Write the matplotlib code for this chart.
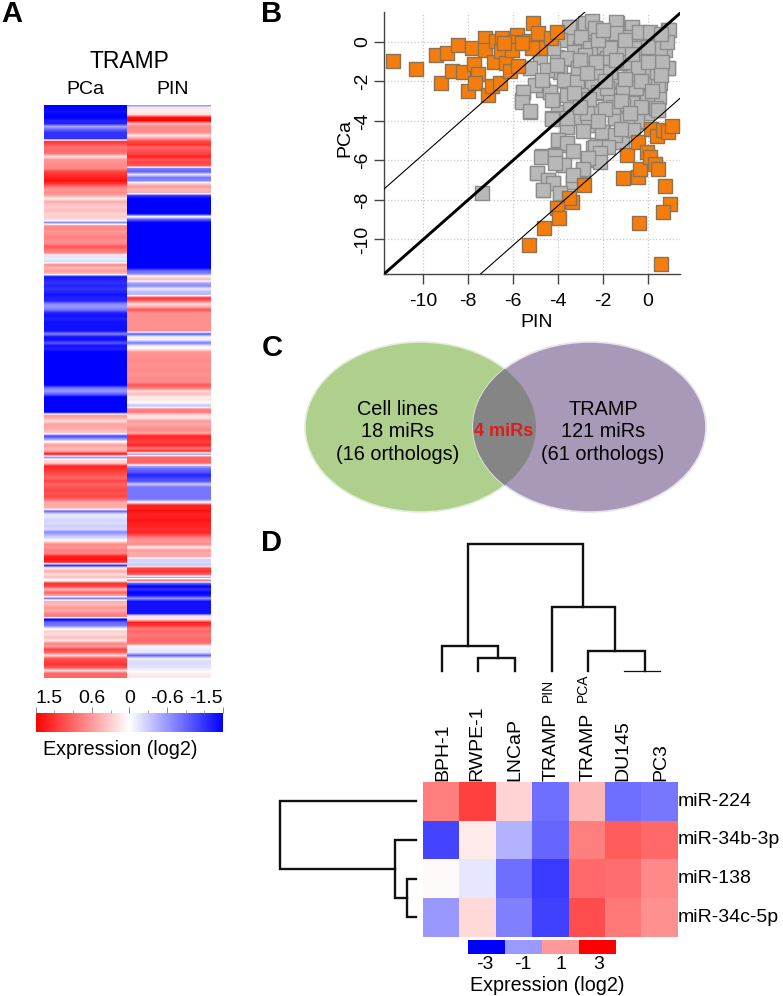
import numpy as np
import matplotlib
matplotlib.use('Agg')
import matplotlib.pyplot as plt
from matplotlib.colors import LinearSegmentedColormap, Normalize
from matplotlib.cm import ScalarMappable
from matplotlib.patches import Ellipse, Rectangle

plt.rcParams['font.family'] = ['Liberation Sans', 'DejaVu Sans']
plt.rcParams['axes.unicode_minus'] = False

W, H = 783, 996

# panel A, one value per row, top to bottom
pca_rows = [-1.5, -1.5, -1.4, -1.5, -1.5, -1.3, -1.3, -0.5, -0.9, -1.2, -1.2, -1.2, 1.2, 1.0, 0.8, 0.9, 0.8, 0.15,
            0.6, 0.65, 0.7, 0.7, 1.1, 1.2, 1.3, 1.4, 1.2, 0.8, 0.6, 0.7, 0.5, 0.1, 0.5, 0.35, 0.3, 0.4, 0.25, 0.3, 0.2,
            -0.7, 0.65, 0.7, 0.6, 0.7, 0.75, 0.65, 0.7, 1.0, 0.8, 0.7, -0.2, -0.1, -0.25, 0.7, 0.4, 0.6, 0.4,
            -1.4, -1.3, -1.2, -1.3, -1.2, -1.3, -1.4, -1.3, -1.3, -0.7, -0.6, -0.8,
            -1.3, -1.4, -1.3, -1.4, -1.4, -1.4, -1.4, -0.7, -1.4, -1.4,
            -1.0, -1.4, -1.3, -1.5, -1.5, -1.5, -1.5, -1.5, -1.5, -1.5, -1.5, -1.5, -1.5, -1.5, -1.5,
            -0.8, -0.6, -0.9, -1.5, -1.5, -1.5, -1.5, -1.5, -1.5, 0.6, 0.5, 0.2, 0.55, 0.5, 0.45, 0.3,
            -1.1, -0.6, 0.1, 0.6, 0.4, 0.5, 1.4, -0.7, 0.2, 0.3,
            1.3, 1.2, 1.1, 1.0, 0.9, 1.1, 0.9, 1.0, 1.1, 1.0, 1.1, 0.9, 0.5, 0.5, 0.45, -0.9, -0.15,
            -0.15, -0.25, -0.2, -0.3, -0.2, -0.7, -0.4, -0.2, 0.15, 0.7, 0.6, 0.75, 0.7, 1.3, 1.4, 1.2, -1.3,
            0.15, 0.5, 0.2, 0.4, -0.1, 1.2, 1.1, 0.4, 0.9, 0.6, -0.8, 0.5, 0.4, 0.6, 0.5, 0.7, 0.8, -1.5,
            -0.9, -0.8, -0.1, 0.3, 0.2, 0.4, 0.15, 0.7, 0.6, 1.1, 0.9, 0.2, 1.0, 1.1, 1.2, 1.0, 0.2, 0.9, 0.9]
pin_rows = [-0.6, 0.15, 0.1, 0.2, 1.4, 1.5, 0.4, 0.7, 0.7, 0.65, 0.15, 0.6,
            1.1, 1.2, 0.9, 1.0, 1.1, 1.3, 1.0, 1.1, 1.0, -0.8, -0.9, -0.15, -0.8, -0.7, 0.3, 0.6, 0.4, 0.5, -1.2,
            -1.5, -1.5, -1.5, -1.5, -1.5, -1.5, 0.0, -1.0,
            -1.5, -1.5, -1.5, -1.5, -1.5, -1.5, -1.5, -1.5, -1.5, -1.5, -1.5, -1.5, -1.5, -1.5, -1.5, -1.5,
            -0.9, -0.7, 0.2, 0.4, -0.5, -0.7, -0.1, -0.4, -0.4, 1.2, 0.9, 0.2, 0.5,
            1.0, 0.65, 0.65, 0.65, 0.65, 0.65, 0.65, 0.65, -1.0, -0.05, -0.1,
            -0.8, -0.1, 0.1, 0.6, 0.65, 0.65, 0.7, 0.65, 0.65, 0.7, 0.65, 0.65, 0.7, 0.65,
            1.0, 0.8, 0.2, 0.4, 0.1, 0.15, -0.05, -0.4, 0.7, 0.8, 0.2, 0.15, 0.6, 0.5, 0.6, 0.7, 0.5,
            1.3, 1.2, 1.1, 1.3, 0.8, 1.2, -0.7, 0.9, 0.9, 0.9, -0.5, -0.9, -1.0, -1.3, -1.1, -1.0,
            -0.3, -0.8, -0.8, -0.8, -0.8, -0.8, 0.0, 1.3, 1.3, 1.4, 1.3, 1.3, 1.4, 1.3, 1.3, 1.2, 1.3,
            1.0, 0.7, 0.6, 0.7, 0.1, 0.6, 0.5, 0.55, -0.3, -0.2, -0.35, 1.1, 1.2, 1.0, -0.6, 0.9, -0.9,
            -1.5, -1.2, -1.5, -1.4, -0.6, -1.4, -1.4, -1.4, -1.4, -1.4, 0.15, 0.15, 1.3, 1.2,
            0.8, 0.9, 0.8, 0.85, 0.9, 0.8, -0.05, -0.1, -0.15, -0.9, -0.1, -0.2, -0.2, -0.15, -0.05, 0.1, 0.15]
bar_ticks = [1.5, 0.6, 0, -0.6, -1.5]
bar_minor = [1.2, 0.9, 0.3, -0.3, -0.9, -1.2]

# panel B
orange_pin = [-11.34, -10.31, -9.45, -8.96, -8.45, -9.21, -8.71, -8.25, -7.82, -7.25, -7.25, -7.73, -7.58, -8.0, -7.7,
              -7.1, -6.92, -6.6, -6.85, -6.78, -6.5, -6.55, -6.33, -6.14, -5.77, -5.84, -5.94, -6.06, -5.27, -5.1,
              -4.87, -4.8, -5.17, -4.31, -4.03, -6.4, -5.62,
              -2.82, -3.39, -3.5, -4.03, -3.97, -4.62, -5.27, -0.94, -1.11, -0.45, -0.34, -0.42, -0.01, 0.1, 0.33,
              0.48, 0.15, 0.43, 0.7, 0.92, 1.07, 0.77, 1.0, 0.67, -0.4, 0.59]
orange_pca = [-0.98, -1.38, -0.67, -0.56, -0.17, -2.07, -1.47, -1.52, -0.34, 0.17, -0.42, -1.13, -1.64, -2.48, -2.07,
              -2.7, -2.24, -2.07, -1.01, 0.05, 0.17, -0.46, -1.06, -1.47, -1.21, 0.34, -0.03, -0.42, 0.05, 0.96,
              0.42, -0.34, -0.34, 0.17, 0.47, -0.08, -0.08,
              -7.25, -8.09, -7.93, -8.43, -8.94, -9.44, -10.3, -5.72, -6.91, -6.83, -6.46, -5.09, -5.56, -5.82, -6.19,
              -6.46, -4.42, -4.77, -4.47, -4.59, -4.25, -7.3, -8.23, -8.63, -9.16, -11.26]
gray_pin = [-3.46, -2.72, -2.35, -1.38, -1.98, -0.71, 0.92, -3.02, -2.42, -1.53, -0.79, 0.25, 0.77,
            -3.46, -2.87, -1.98, -1.08, -0.19, 0.33, 0.62,
            -3.61, -4.06, -3.02, -2.42, -1.83, -1.16, -0.27, 0.40, 0.77,
            -5.25, -4.50, -4.80, -3.91, -3.09, -2.35, -1.75, -0.79, -0.12, 0.92, 0.40,
            -4.95, -4.35, -3.69, -3.09, -3.54, -2.20, -1.53, -2.20, -1.08, 0.10, 0.55, -0.27, 0.25,
            -5.54, -5.62, -5.25, -4.65, -4.21, -3.02, -1.68, -0.71, -2.64,
            -3.98, -4.28, -3.16, -2.35, -1.46, -0.49, 0.48, -0.04, -0.94,
            -3.61, -2.64, -1.98, -3.98, -3.61, -3.31, -1.53, -1.16, -2.27, -2.42, -1.83,
            -4.73, -4.13, -3.76, -2.72, -2.20, -2.90,
            -4.95, -4.43, -4.65, -3.91, -3.31, -4.21, -7.40,
            -2.6, -1.2, -0.5, -3.3, 0.1, -1.8, -2.9, -0.9, 0.5, -1.5, -2.5, -0.4,
            -3.50, -2.80, -2.50, -2.35, -1.39, -0.72, 0.96, -2.95, -1.83, -2.01, -1.09, -0.79, -0.20, 0.28,
            -3.61, -3.09, -2.50, -1.80, -0.23, 0.25, 0.92, -4.50, -5.25, -0.79, -0.15, -1.39, 0.15,
            -3.73, -3.17, -2.50, -2.20, -1.09, -1.68, -0.72, -4.36, -5.03, -5.55, -5.62, -4.28, -2.95,
            -0.05, 0.47, 0.37, -5.25, -3.47, -2.43, -1.39,
            -3.91, -4.20, -2.57, -1.68, -0.49, 0.55, 0.84, 0.03, -1.24, -2.13, -1.68, 0.40, -0.50, -1.83,
            -3.61, -4.73, -4.06, -2.80, -2.20, -1.39, -0.94, -0.42, 0.62, -1.09,
            -4.28, -3.17, -2.65, -3.58, -3.99, -3.61, -3.35, -2.25, -2.05, -1.46, -0.49, -0.94, -1.16, -1.46,
            -1.76, -2.35, -2.13, -2.13, -2.65, -2.90, -4.77, -4.13, -3.73, -4.13, -4.95, -4.43, -4.21, -4.68,
            -3.32, -3.91, -3.32, -0.64, -3.61, -2.72, -1.53, 0.47,
            -1.0, -0.4, 0.1, 0.6, -2.0, -3.0, -2.3, -1.4, -0.7, 0.0, 0.6, -0.3, -1.0, -1.9, -2.7, -3.3, -2.6,
            -1.2, -0.3, 0.2, -1.9, -3.0, -0.8, -2.2, -1.2, -2.9]
gray_pca = [0.76, 0.84, 0.67, 0.96, 0.51, 0.67, 0.59, 0.34, 0.25, 0.42, 0.25, 0.34, 0.25,
            0.17, 0.0, -0.08, -0.42, 0.0, -0.08, 0.08,
            -0.89, -0.76, -0.34, -0.42, -0.84, -0.42, -0.84, -0.59, -0.42,
            -1.35, -1.43, -0.76, -1.52, -1.43, -1.35, -1.52, -1.69, -1.69, -1.35, -1.26,
            -2.19, -2.53, -1.94, -2.02, -2.53, -1.94, -2.02, -2.61, -2.45, -2.19, -2.11, -2.78, -2.61,
            -2.53, -2.95, -3.54, -2.45, -2.95, -2.78, -2.95, -3.2, -3.12,
            -3.54, -3.88, -3.88, -3.54, -3.88, -4.05, -3.46, -3.63, -3.79,
            -4.3, -4.22, -4.55, -4.97, -5.23, -5.51, -4.81, -5.06, -5.23, -5.4, -5.23,
            -5.78, -5.73, -6.24, -5.99, -5.9, -6.49,
            -6.66, -7.0, -7.5, -7.67, -7.08, -7.17, -7.67,
            0.55, -1.0, -1.1, -0.5, -0.9, -2.4, -3.3, -3.0, -2.8, -0.2, -3.7, -0.1,
            0.76, 0.93, 1.05, 0.71, 1.01, 0.76, 0.59, 0.22, 0.17, -0.25, -0.42, 0.26, 0.37, 0.34,
            -0.84, -1.35, -1.26, -0.84, -0.81, -0.76, -1.35, -1.43, -1.35, -1.69, -1.65, -1.94, -2.16,
            -1.94, -2.02, -2.11, -2.56, -2.44, -2.95, -3.12, -2.56, -2.19, -2.56, -3.03, -2.95, -2.70,
            -2.87, -2.19, -3.37, -3.50, -3.37, -3.50, -3.37,
            0.09, -0.34, -0.34, -0.34, -0.34, -0.34, 0.0, -0.25, -1.10, -1.52, -1.52, -1.52, -2.36, -2.36,
            -2.70, -1.94, -1.18, -0.67, 0.09, 0.42, -1.01, -1.26, -1.01, -3.20,
            -3.91, -3.84, -4.21, -4.30, -4.97, -5.14, -5.51, -5.22, -4.55, -3.87, -4.01, -3.96, -5.05, -4.72,
            -5.31, -5.31, -5.65, -6.07, -5.90, -6.45, -5.81, -5.76, -6.24, -6.15, -6.66, -7.00, -7.16, -7.50,
            -7.11, -7.67, -6.74, -4.46, -3.87, -3.62, -3.28, -3.45,
            0.1, 0.5, 0.5, 0.4, 0.6, -0.9, -1.0, -0.9, -0.6, -1.0, -1.7, -2.0, -1.9, -2.0, -1.6, -2.6, -2.9,
            -3.0, -3.3, -2.5, -3.4, -3.3, -3.6, -4.0, -4.4, -4.5]
b_ticks = [-10, -8, -6, -4, -2, 0]
offsets = [4.3, -4.3]

# panel C
venn_left = ['Cell lines', '18 miRs', '(16 orthologs)']
venn_right = ['TRAMP', '121 miRs', '(61 orthologs)']
venn_mid = '4 miRs'

# panel D
samples = ['BPH-1', 'RWPE-1', 'LNCaP', 'TRAMP', 'TRAMP', 'DU145', 'PC3']
sample_pos = [0.55, 1.49, 2.54, 3.55, 4.55, 5.52, 6.56]
mirnas = ['miR-224', 'miR-34b-3p', 'miR-138', 'miR-34c-5p']
mir224 = [1.5, 2.25, 0.5, -1.7, 0.85, -1.7, -1.6]
mir34b = [-2.2, 0.25, -0.9, -1.8, 1.5, 1.9, 1.75]
mir138 = [0.05, -0.3, -1.7, -2.3, 1.75, 1.7, 1.4]
mir34c = [-1.2, 0.45, -1.5, -2.25, 2.1, 1.55, 1.3]
legend_vals = [-3, -1, 1, 3]

# dendrogram links: left pos, left height, right pos, right height, join height
col_links = [(1.257, 24.7, 4.42, 64, 127),
             (0.52, 0, 2.08, 12.3, 24.7),
             (1.53, 0, 2.54, 0, 12.3),
             (3.55, 0, 5.29, 19.7, 64),
             (4.56, 0, 6.12, 0, 19.7)]
row_links = [(0.5, 0, 2.245, 20.7, 135.7),
             (1.5, 0, 2.99, 9, 20.7),
             (2.5, 0, 3.5, 0, 9)]


def px_ax(x0, y0, x1, y1):
    return fig.add_axes([x0 / W, 1 - y1 / H, (x1 - x0) / W, (y1 - y0) / H])


def px_text(x, y, s, **kw):
    kw.setdefault('ha', 'center')
    kw.setdefault('va', 'center')
    fig.text(x / W, 1 - y / H, s, **kw)


fig = plt.figure(figsize=(W / 100, H / 100), dpi=100)
bwr = LinearSegmentedColormap.from_list('bwr2', ['#0000ff', '#ffffff', '#ff0000'])

# A
for x0, x1, rows in [(44, 127.5, pca_rows), (127.5, 211, pin_rows)]:
    ax = px_ax(x0, 105, x1, 678)
    ax.imshow(np.array(rows).reshape(-1, 1), cmap=bwr, vmin=-1.5, vmax=1.5, aspect='auto', interpolation='bilinear')
    ax.axis('off')
px_text(129, 62, 'TRAMP', fontsize=16.5)
px_text(85, 90, 'PCa', fontsize=14)
px_text(173, 90, 'PIN', fontsize=14)

cax = px_ax(35.5, 713, 223, 732)
sm = ScalarMappable(norm=Normalize(-1.5, 1.5), cmap=bwr)
cb = fig.colorbar(sm, cax=cax, orientation='horizontal')
cb.outline.set_visible(False)
cax.invert_xaxis()
cax.xaxis.set_ticks_position('top')
cax.set_xticks(bar_ticks, [str(t) for t in bar_ticks], fontsize=14)
cax.set_xticks(bar_minor, minor=True)
cax.tick_params(axis='x', which='major', length=4, width=0.6, color='#777777', pad=0)
cax.tick_params(axis='x', which='minor', length=2.2, width=0.6, color='#999999')
tl = cax.get_xticklabels()
tl[0].set_ha('left')
tl[-1].set_ha('right')
px_text(120, 749, 'Expression (log2)', fontsize=14.2)

# B
ax = px_ax(384, 11.7, 680, 274)
ax.set_xlim(-11.75, 1.44)
ax.set_ylim(-11.75, 1.52)
ax.grid(True, ls=':', lw=0.9, color='#c8c8c8')
ax.set_axisbelow(True)
ax.scatter(gray_pin, gray_pca, marker='s', s=92, c='#b8b8b8', edgecolors='#8c8c8c', linewidths=1.0, zorder=3,
           clip_on=False)
ax.scatter(orange_pin, orange_pca, marker='s', s=92, c='#f47d0e', edgecolors='#8a7355', linewidths=1.0, zorder=4,
           clip_on=False)
lim = np.array([-11.75, 1.44])
ax.plot(lim, lim, color='black', lw=2.1, zorder=5)
for off in offsets:
    ax.plot(lim, lim + off, color='black', lw=0.8, zorder=5)
ax.set_xticks(b_ticks)
ax.set_yticks(b_ticks)
ax.tick_params(labelsize=14, length=7, width=1.0, color='#444444')
ax.tick_params(axis='x', pad=7)
ax.tick_params(axis='y', pad=2)
plt.setp(ax.get_yticklabels(), rotation=90, va='center')
for s in ['top', 'right']:
    ax.spines[s].set_visible(False)
for s in ['left', 'bottom']:
    ax.spines[s].set_linewidth(1.0)
    ax.spines[s].set_color('#444444')
px_text(537, 322, 'PIN', fontsize=14)
px_text(345, 138, 'PCa', fontsize=14, rotation=90)

# C
ax = px_ax(290, 330, 720, 520)
ax.set_xlim(290, 720)
ax.set_ylim(520, 330)
ax.axis('off')
left = Ellipse((420.5, 427), 231, 170, fc='#afd08c', ec='#e4edd8', lw=1.2)
right = Ellipse((589.5, 427), 233, 170, fc='#a899b8', ec='#e6e0ec', lw=1.2)
ax.add_patch(left)
ax.add_patch(right)
both = Ellipse((420.5, 427), 231, 170, fc='#858585', ec='none')
ax.add_patch(both)
both.set_clip_path(Ellipse((589.5, 427), 233, 170, transform=ax.transData))
for i in range(3):
    ax.text(398, 409 + i * 22.7, venn_left[i], fontsize=14.3, ha='center', va='center')
    ax.text(603, 409 + i * 22.7, venn_right[i], fontsize=14.3, ha='center', va='center')
ax.text(504, 431.7, venn_mid, fontsize=13, fontweight='bold', color='#e01b1b', ha='center', va='center')

# D
values = np.array([mir224, mir34b, mir138, mir34c])
hm = px_ax(422.7, 781.7, 676.7, 936.7)
hm.imshow(values, cmap=bwr, vmin=-3, vmax=3, aspect='auto', extent=(0, 7, 4, 0), interpolation='nearest')
hm.axis('off')
for i, name in enumerate(mirnas):
    hm.text(7.03, i + 0.5, name, fontsize=14, ha='left', va='center')
for i, name in enumerate(samples):
    hm.text(sample_pos[i], -0.03, name, fontsize=14, rotation=90, ha='center', va='bottom', clip_on=False)
px_text(548, 690, 'PIN', fontsize=10, rotation=90)
px_text(583, 688, 'PCA', fontsize=10, rotation=90)

top = px_ax(422.7, 540, 676.7, 670.7)
top.set_xlim(0, 7)
top.set_ylim(0, 130.7)
top.axis('off')
for lx, lh, rx, rh, h in col_links:
    top.plot([lx, lx, rx, rx], [lh, h, h, rh], color='#111111', lw=1.7, clip_on=False, solid_joinstyle='miter')
top.plot([5.54, 6.55], [0, 0], color='#111111', lw=0.9, clip_on=False)

side = px_ax(270, 781.7, 415.7, 936.7)
side.set_xlim(145.7, 0)
side.set_ylim(4, 0)
side.axis('off')
for ly, lh, ry, rh, h in row_links:
    side.plot([lh, h, h, rh], [ly, ly, ry, ry], color='#111111', lw=1.7, clip_on=False, solid_joinstyle='miter')

leg = px_ax(468, 940, 616, 954)
leg.set_xlim(0, 4)
leg.set_ylim(0, 1)
leg.axis('off')
leg_cmap = ['#0000ff', '#9999ff', '#ff9999', '#ff0000']
for i, v in enumerate(legend_vals):
    leg.add_patch(Rectangle((i, 0), 1, 1, fc=leg_cmap[i], ec='none'))
    leg.text(i + 0.45 + 0.03 * i, -0.78, str(v), fontsize=14, ha='center', va='center', clip_on=False)
px_text(547, 985, 'Expression (log2)', fontsize=14.2)

for letter, x, y in [('A', 1, 22), ('B', 261, 22.5), ('C', 262, 356), ('D', 261, 551)]:
    px_text(x, y, letter, fontsize=21, fontweight='bold', ha='left', va='baseline')

fig.savefig('out.png', dpi=100)
